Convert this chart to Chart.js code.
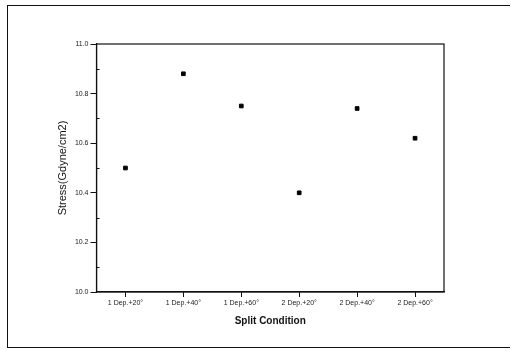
<!DOCTYPE html>
<html>
<head>
<meta charset="utf-8">
<script src="https://cdn.jsdelivr.net/npm/chart.js@4/dist/chart.umd.min.js"></script>
<style>
    body { margin: 0; background: #fff; }
    #wrap { position: relative; width: 511px; height: 351px; }
    #frame {
        position: absolute; left: 7px; top: 5px; width: 503px; height: 343px;
        border: 1px solid #111; border-right: none; box-sizing: border-box;
    }
    canvas { position: absolute; left: 0; top: 0; }
</style>
</head>
<body>
<div id="wrap">
    <div id="frame"></div>
    <canvas id="grafico" width="511" height="351"></canvas>
</div>
<script>
const condicoes = ['1 Dep.+20°', '1 Dep.+40°', '1 Dep.+60°', '2 Dep.+20°', '2 Dep.+40°', '2 Dep.+60°'];
const tensao = [10.50, 10.88, 10.75, 10.40, 10.74, 10.62];
const ticksY = [10.0, 10.2, 10.4, 10.6, 10.8, 11.0];
const ticksMenores = [10.1, 10.3, 10.5, 10.7, 10.9];

// caixa em volta da area do grafico + tracinhos menores no eixo y
const caixaPlugin = {
    id: 'caixa',
    afterDraw(chart) {
        const { ctx, chartArea } = chart;
        const escalaY = chart.scales.y;
        ctx.save();
        ctx.strokeStyle = '#111';
        ctx.lineWidth = 1.2;
        ctx.strokeRect(chartArea.left, chartArea.top, chartArea.right - chartArea.left, chartArea.bottom - chartArea.top);
        ctx.lineWidth = 1;
        ticksMenores.forEach(v => {
            const y = Math.round(escalaY.getPixelForValue(v)) + 0.5;
            ctx.beginPath();
            ctx.moveTo(chartArea.left, y);
            ctx.lineTo(chartArea.left + 3, y);
            ctx.stroke();
        });
        ctx.restore();
    },
};

const ctx = document.getElementById('grafico').getContext('2d');

new Chart(ctx, {
    type: 'scatter',
    data: {
        labels: condicoes,
        datasets: [{
            label: 'Stress',
            data: tensao,
            backgroundColor: '#000',
            borderColor: '#000',
            pointStyle: 'rect',
            pointRadius: 2.6,
            showLine: false,
        }]
    },
    options: {
        responsive: false,
        animation: false,
        layout: { padding: { left: 56, top: 44, right: 67, bottom: 24 } },
        plugins: {
            legend: { display: false },
            tooltip: { enabled: false },
        },
        scales: {
            x: {
                type: 'category',
                offset: true,
                grid: { drawOnChartArea: false, tickLength: 5, color: '#111', offset: false },
                border: { color: '#111', width: 1.2 },
                ticks: { color: '#222', font: { family: 'Arial', size: 7 }, padding: 2, maxRotation: 0, autoSkip: false },
                title: {
                    display: true, text: 'Split Condition', color: '#111',
                    font: { family: 'Arial', size: 10, weight: 'bold' }, padding: { top: 6, bottom: 0 },
                },
                afterFit(scale) { scale.height = 35; },
            },
            y: {
                min: 10.0,
                max: 11.0,
                afterBuildTicks(scale) { scale.ticks = ticksY.map(v => ({ value: v })); },
                grid: { drawOnChartArea: false, tickLength: 6, color: '#111' },
                border: { color: '#111', width: 1.2 },
                ticks: {
                    color: '#222', font: { family: 'Arial', size: 7 }, padding: 2,
                    callback: v => v.toFixed(1),
                },
                title: {
                    display: true, text: 'Stress(Gdyne/cm2)', color: '#111',
                    font: { family: 'Arial', size: 11 }, padding: { top: 0, bottom: 0 },
                },
                afterFit(scale) { scale.width = 40.5; },
            },
        },
    },
    plugins: [caixaPlugin],
});
</script>
</body>
</html>
